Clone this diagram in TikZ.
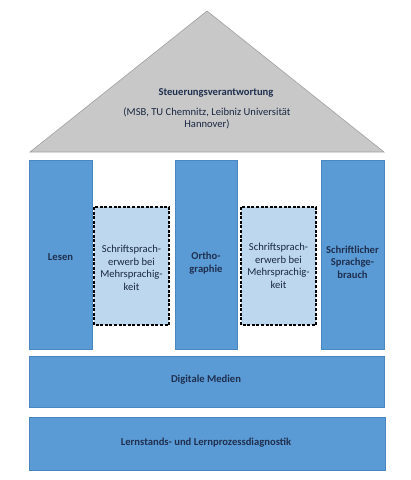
\documentclass[tikz,border=0pt]{standalone}
\usepackage{fontspec}
\setmainfont{Carlito}
\definecolor{pillar}{HTML}{5B9BD5}
\definecolor{pillaredge}{HTML}{4A86BF}
\definecolor{lightpil}{HTML}{BDD7EE}
\definecolor{roof}{HTML}{C8C8C8}
\definecolor{roofedge}{HTML}{A0A0A0}
\definecolor{navy}{HTML}{1F2F4F}
\begin{document}
\begin{tikzpicture}[x=1pt,y=-1pt,
  bluebox/.style={draw=pillaredge,fill=pillar,line width=0.6pt},
  dashbox/.style={draw=black,fill=lightpil,dash pattern=on 3pt off 1.6pt,line width=1.1pt},
  boldtxt/.style={font=\fontsize{10.6}{12.5}\selectfont\bfseries,text=navy,align=center},
  plaintxt/.style={font=\fontsize{10.6}{12.5}\selectfont,text=navy!85!black,align=center}]
\useasboundingbox (0,0) rectangle (411,480);
% roof
\draw[fill=roof,draw=roofedge,line width=0.6pt] (207,11) coordinate (apex) -- (384,152) coordinate (rr) -- (30,152) coordinate (rl) -- cycle;
\node[boldtxt] (roofa) at (216,93) {Steuerungsverantwortung};
\node[plaintxt] (roofb) at (207,118.5) {(MSB, TU Chemnitz, Leibniz Universität\\Hannover)};
% pillars
\draw[bluebox] (29,160) rectangle (92,349);
\node[boldtxt] (lesen) at (60.5,257) {Lesen};
\draw[bluebox] (175,160) rectangle (237,349);
\node[boldtxt] (ortho) at (206,263) {Ortho-\\graphie};
\draw[bluebox] (321,160) rectangle (384,349);
\node[boldtxt] (schrift) at (352.5,262) {Schriftlicher\\Sprachge-\\brauch};
% dashed boxes
\draw[dashbox] (94,207) rectangle (169,325);
\node[plaintxt] (mehr1) at (131.5,268) {Schriftsprach-\\erwerb bei\\Mehrsprachig-\\keit};
\draw[dashbox] (241,207) rectangle (316,325);
\node[plaintxt] (mehr2) at (278.5,266) {Schriftsprach-\\erwerb bei\\Mehrsprachig-\\keit};
% bands
\draw[bluebox] (29,356) rectangle (384,407);
\node[boldtxt] (digi) at (206,380) {Digitale Medien};
\draw[bluebox] (29,417) rectangle (385,470);
\node[boldtxt] (lern) at (206,443) {Lernstands- und Lernprozessdiagnostik};
\end{tikzpicture}
\end{document}
